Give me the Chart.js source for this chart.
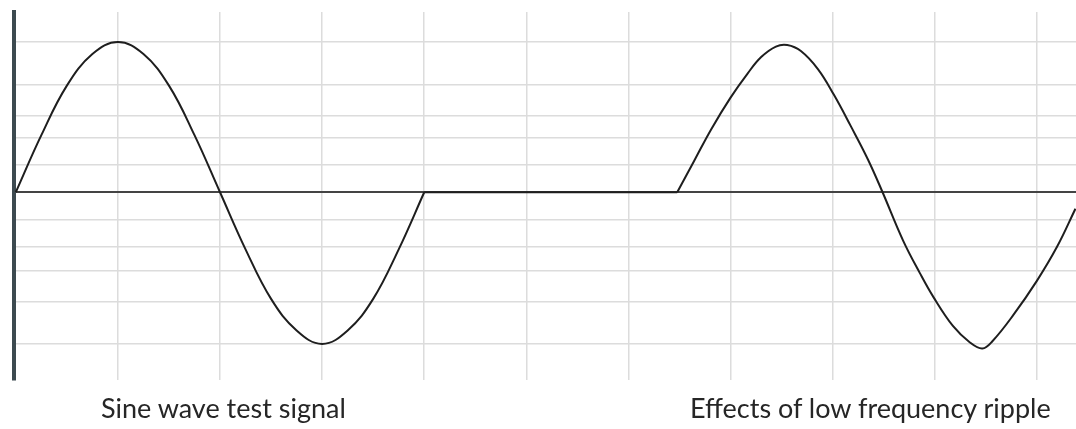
<!DOCTYPE html>
<html>
<head>
<meta charset="utf-8">
<script src="https://cdn.jsdelivr.net/npm/chart.js@4/dist/chart.umd.min.js"></script>
<style>
  body { margin: 0; background: #fff; }
  #wrap { position: relative; width: 1076px; height: 429px; }
  .cap {
    position: absolute;
    top: 394px;
    font-family: Lato, sans-serif;
    font-size: 27px;
    line-height: 27px;
    color: #262626;
    white-space: nowrap;
  }
</style>
</head>
<body>
<div id="wrap">
  <canvas id="waveChart" width="1076" height="429"></canvas>
  <div class="cap" id="cap1" style="left:101px">Sine wave test signal</div>
  <div class="cap" id="cap2" style="left:690px">Effects of low frequency ripple</div>
</div>
<script>
// x in degrees (one grid column = 90 deg), y relative to peak
const cleanDeg = [0, 22.5, 45, 67.5, 90, 112.5, 135, 157.5, 180, 202.5, 225, 247.5, 270, 292.5, 315, 337.5, 360];
const cleanVal = [0, 0.38, 0.71, 0.92, 1, 0.92, 0.71, 0.38, 0, -0.38, -0.71, -0.92, -1.01, -0.92, -0.71, -0.38, 0];

const flatDeg = [360, 583];
const flatVal = [0, 0];

const rippleDeg = [583, 598, 613, 630, 645, 657, 670, 680, 692, 707, 721, 736, 751, 764, 782, 797, 809, 826, 841, 852, 861, 879, 900, 918, 934];
const rippleVal = [0, 0.21, 0.42, 0.63, 0.79, 0.90, 0.97, 0.98, 0.94, 0.82, 0.65, 0.44, 0.22, 0, -0.32, -0.54, -0.70, -0.89, -1.0, -1.04, -0.99, -0.82, -0.59, -0.36, -0.11];

const xTicks = [90, 180, 270, 360, 450, 540, 630, 720, 810, 900];
const yTicks = [1.0, 0.715, 0.51, 0.36, 0.18, 0, -0.18, -0.36, -0.52, -0.73, -1.01];

const toPoints = (xs, ys) => xs.map((x, i) => ({ x: x, y: ys[i] }));

const lineStyle = {
  borderColor: '#1e1e1e',
  borderWidth: 2,
  pointRadius: 0,
  fill: false,
  tension: 0.4
};

const data = {
  datasets: [
    Object.assign({ data: toPoints(cleanDeg, cleanVal) }, lineStyle),
    Object.assign({ data: toPoints(flatDeg, flatVal) }, lineStyle, { tension: 0 }),
    Object.assign({ data: toPoints(rippleDeg, rippleVal) }, lineStyle)
  ]
};

const config = {
  type: 'line',
  data: data,
  options: {
    responsive: false,
    animation: false,
    layout: { padding: { left: 14, top: 12, right: 0, bottom: 49 } },
    plugins: { legend: { display: false }, tooltip: { enabled: false } },
    scales: {
      x: {
        type: 'linear',
        min: -1.6,
        max: 934.5,
        afterBuildTicks: axis => { axis.ticks = xTicks.map(v => ({ value: v })); },
        ticks: { display: false },
        grid: { color: '#dcdcdc', lineWidth: 1.5, drawTicks: false },
        border: { display: false }
      },
      y: {
        min: -1.25,
        max: 1.2,
        afterBuildTicks: axis => { axis.ticks = yTicks.map(v => ({ value: v })); },
        ticks: { display: false },
        grid: {
          drawTicks: false,
          color: ctx => ctx.tick && ctx.tick.value === 0 ? '#444' : '#dcdcdc',
          lineWidth: ctx => ctx.tick && ctx.tick.value === 0 ? 2 : 1.5
        },
        border: { display: true, color: '#3d4a50', width: 4 }
      }
    }
  }
};

const waveChart = new Chart(document.getElementById('waveChart'), config);
</script>
</body>
</html>
